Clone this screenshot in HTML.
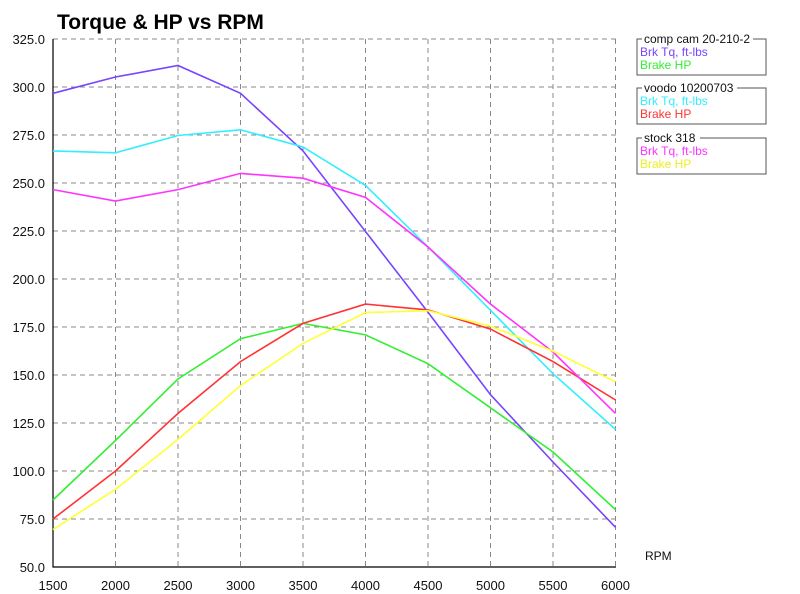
<!DOCTYPE html>
<html><head><style>body{margin:0;background:#fff}svg{display:block;font-family:"Liberation Sans",Arial,sans-serif}</style></head><body>
<svg width="800" height="594" xmlns="http://www.w3.org/2000/svg">
<text x="57" y="29" font-size="21" font-weight="bold" fill="#000">Torque &amp; HP vs RPM</text>
<g stroke="#888" stroke-width="1" stroke-dasharray="5,4" fill="none">
<path d="M115.5 39V567M178 39V567M240.5 39V567M303 39V567M365.5 39V567M428 39V567M490.5 39V567M553 39V567M615.5 39V567"/>
<path d="M53 39H616M53 87H616M53 135H616M53 183H616M53 231H616M53 279H616M53 327H616M53 375H616M53 423H616M53 471H616M53 519H616"/>
</g>
<path d="M53 39V567H616" stroke="#000" stroke-width="1.2" fill="none"/>
<g font-size="13" fill="#111" text-anchor="end">
<text x="45" y="44">325.0</text><text x="45" y="92">300.0</text><text x="45" y="140">275.0</text><text x="45" y="188">250.0</text><text x="45" y="236">225.0</text><text x="45" y="284">200.0</text><text x="45" y="332">175.0</text><text x="45" y="380">150.0</text><text x="45" y="428">125.0</text><text x="45" y="476">100.0</text><text x="45" y="524">75.0</text><text x="45" y="572">50.0</text>
</g>
<g font-size="13" fill="#111" text-anchor="middle">
<text x="53" y="590">1500</text><text x="115.5" y="590">2000</text><text x="178" y="590">2500</text><text x="240.5" y="590">3000</text><text x="303" y="590">3500</text><text x="365.5" y="590">4000</text><text x="428" y="590">4500</text><text x="490.5" y="590">5000</text><text x="553" y="590">5500</text><text x="615.5" y="590">6000</text>
</g>
<text x="645" y="560" font-size="12" fill="#111">RPM</text>
<g fill="none" stroke-width="1.6">
<polyline stroke="#7744ff" points="53,93.3 115.5,77 178,65.5 240.5,93.3 303,150.9 365.5,231.5 428,312.2 490.5,394.7 553,462 615.5,527.3"/>
<polyline stroke="#33ee33" points="53,500 115.5,440.5 178,379 240.5,338.7 303,323.4 365.5,334.9 428,363.7 490.5,407.8 553,452 615.5,509.6"/>
<polyline stroke="#33eeff" points="53,150.9 115.5,152.8 178,135.5 240.5,129.8 303,147 365.5,185.4 428,246.9 490.5,310.3 553,373.7 615.5,429.4"/>
<polyline stroke="#ff3333" points="53,519 115.5,471 178,413.4 240.5,361.6 303,323.4 365.5,304.1 428,309.9 490.5,329.1 553,361.6 615.5,400"/>
<polyline stroke="#ff33ff" points="53,189.6 115.5,201 178,189.6 240.5,173.4 303,178.2 365.5,197.4 428,247 490.5,304.1 553,352 615.5,413.4"/>
<polyline stroke="#ffff33" points="53,529.6 115.5,489.3 178,439.4 240.5,385.6 303,343.4 365.5,312.6 428,310.7 490.5,326.1 553,351.1 615.5,381.8"/>
</g>
<g fill="none" stroke="#555" stroke-width="1">
<path d="M642 39H637V75H766V39H753"/>
<path d="M642 88H637V124H766V88H737"/>
<path d="M642 138H637V174H766V138H700"/>
</g>
<g font-size="12">
<text x="644" y="43" fill="#111" textLength="106" lengthAdjust="spacingAndGlyphs">comp cam 20-210-2</text>
<text x="640" y="56" fill="#7744ff">Brk Tq, ft-lbs</text>
<text x="640" y="69" fill="#33ee33">Brake HP</text>
<text x="644" y="92" fill="#111">voodo 10200703</text>
<text x="640" y="105" fill="#33eeff">Brk Tq, ft-lbs</text>
<text x="640" y="118" fill="#ff3333">Brake HP</text>
<text x="644" y="142" fill="#111">stock 318</text>
<text x="640" y="155" fill="#ff33ff">Brk Tq, ft-lbs</text>
<text x="640" y="168" fill="#eeee22">Brake HP</text>
</g>
</svg>
</body></html>
